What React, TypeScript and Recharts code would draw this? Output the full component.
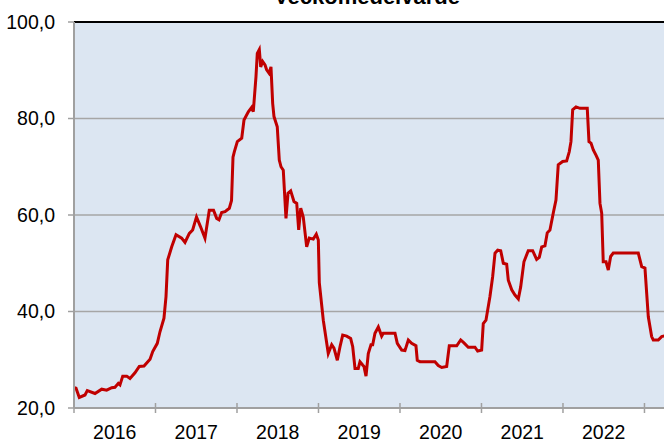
import React from 'react';
import { LineChart, Line, XAxis, YAxis, CartesianGrid, ReferenceLine } from 'recharts';

const weeks: number[] = [
  2016.006, 2016.025, 2016.065, 2016.135, 2016.163, 2016.258, 2016.34, 2016.401, 2016.463, 2016.503,
  2016.544, 2016.564, 2016.598, 2016.647, 2016.687, 2016.748, 2016.801, 2016.859, 2016.933, 2016.966,
  2017.022, 2017.055, 2017.104, 2017.129, 2017.15, 2017.199, 2017.252, 2017.321, 2017.362, 2017.415,
  2017.456, 2017.503, 2017.552, 2017.607, 2017.66, 2017.712, 2017.751, 2017.779, 2017.812, 2017.853,
  2017.906, 2017.933, 2017.951, 2017.967, 2018.004, 2018.058, 2018.086, 2018.139, 2018.18, 2018.2,
  2018.233, 2018.249, 2018.274, 2018.291, 2018.315, 2018.344, 2018.364, 2018.393, 2018.417, 2018.438,
  2018.454, 2018.494, 2018.519, 2018.54, 2018.568, 2018.601, 2018.626, 2018.659, 2018.699, 2018.733,
  2018.757, 2018.782, 2018.813, 2018.855, 2018.887, 2018.936, 2018.973, 2018.998, 2019.01, 2019.059,
  2019.12, 2019.162, 2019.19, 2019.231, 2019.264, 2019.297, 2019.346, 2019.395, 2019.42, 2019.448,
  2019.488, 2019.509, 2019.542, 2019.558, 2019.583, 2019.611, 2019.644, 2019.665, 2019.693, 2019.734,
  2019.775, 2019.795, 2019.939, 2019.967, 2020.021, 2020.061, 2020.102, 2020.143, 2020.196, 2020.212,
  2020.245, 2020.429, 2020.47, 2020.512, 2020.573, 2020.605, 2020.696, 2020.745, 2020.785, 2020.838,
  2020.92, 2020.953, 2021.002, 2021.022, 2021.055, 2021.104, 2021.137, 2021.166, 2021.199, 2021.236,
  2021.268, 2021.309, 2021.329, 2021.371, 2021.411, 2021.452, 2021.481, 2021.521, 2021.574, 2021.628,
  2021.677, 2021.709, 2021.739, 2021.779, 2021.807, 2021.84, 2021.881, 2021.914, 2021.942, 2021.996,
  2022.045, 2022.077, 2022.098, 2022.119, 2022.16, 2022.209, 2022.298, 2022.319, 2022.344, 2022.372,
  2022.405, 2022.433, 2022.454, 2022.475, 2022.494, 2022.528, 2022.556, 2022.585, 2022.617, 2022.924,
  2022.966, 2023.006, 2023.027, 2023.047, 2023.088, 2023.108, 2023.169, 2023.211, 2023.264,
];

const values: number[] = [
  24.2, 24.1, 22.2, 22.7, 23.6, 23.0, 23.9, 23.7, 24.2, 24.3,
  25.1, 24.8, 26.6, 26.6, 26.1, 27.3, 28.6, 28.7, 30.1, 31.7,
  33.4, 35.8, 38.6, 43.1, 50.7, 53.4, 55.9, 55.2, 54.3, 56.2,
  56.9, 59.6, 57.6, 55.2, 61.0, 61.0, 59.3, 59.0, 60.5, 60.7,
  61.4, 63.0, 72.0, 73.1, 75.2, 75.9, 79.7, 81.4, 82.3, 81.4,
  88.7, 93.5, 94.3, 90.7, 91.8, 91.1, 90.1, 89.4, 90.7, 83.1,
  80.4, 78.3, 71.4, 70.0, 69.3, 59.3, 64.5, 65.0, 62.8, 62.4,
  56.9, 61.4, 59.6, 53.4, 55.2, 55.0, 56.0, 54.8, 46.0, 38.2,
  31.3, 33.1, 32.4, 29.9, 32.7, 35.1, 34.9, 34.4, 32.7, 28.2,
  28.2, 29.6, 28.9, 28.6, 26.6, 31.3, 33.1, 33.1, 35.5, 36.8,
  34.9, 35.5, 35.5, 33.4, 32.0, 31.9, 34.1, 33.4, 32.9, 29.9,
  29.6, 29.6, 28.8, 28.4, 28.6, 32.9, 32.9, 34.1, 33.5, 32.6,
  32.6, 31.8, 32.0, 37.5, 38.2, 43.1, 47.2, 52.1, 52.7, 52.6,
  50.0, 49.8, 46.5, 44.5, 43.4, 42.6, 45.1, 50.3, 52.6, 52.6,
  50.8, 51.2, 53.4, 53.6, 56.3, 56.9, 60.4, 63.1, 70.4, 71.1,
  71.2, 73.1, 75.2, 81.8, 82.4, 82.1, 82.1, 75.2, 74.9, 73.5,
  72.4, 71.4, 62.4, 60.4, 50.3, 50.3, 48.6, 51.4, 52.1, 52.1,
  49.3, 49.0, 43.8, 38.9, 34.8, 34.1, 34.1, 34.8, 35.0,
];

const yearTicks: number[] = [2016, 2017, 2018, 2019, 2020, 2021, 2022, 2023];
const yearLabelTicks: number[] = [2016.5, 2017.5, 2018.5, 2019.5, 2020.5, 2021.5, 2022.5];
const yTicks: number[] = [20, 40, 60, 80, 100];
const X_MIN = 2016;
const X_MAX = 2023.485;
const title = 'Veckomedelvärde';

const data = weeks.map((w, i) => ({ week: w, value: values[i] }));

const FONT = '"Liberation Sans", Arial, sans-serif';
const AXIS_GRAY = '#a0a0a0';

const XTick = (props: any) => {
  const { x, y, payload } = props;
  const v = payload.value as number;
  if (Number.isInteger(v)) {
    return <line x1={x} x2={x} y1={y - 5} y2={y + 5} stroke={AXIS_GRAY} strokeWidth={1.5} />;
  }
  return (
    <text x={x} y={y + 31} textAnchor="middle" fontSize={19.5} fontFamily={FONT} fill="#000">
      {Math.floor(v)}
    </text>
  );
};

export default function App() {
  return (
    <div
      style={{
        position: 'absolute',
        left: 0,
        top: 0,
        width: 664,
        height: 441,
        overflow: 'hidden',
        background: '#fff',
      }}
    >
      <LineChart width={700} height={441} data={data} margin={{ top: 22, right: 16, bottom: 0, left: 0 }}>
        <CartesianGrid
          horizontal
          vertical={false}
          fill="#dce6f2"
          fillOpacity={1}
          stroke="#a6a6a6"
          strokeWidth={1.5}
        />
        <XAxis
          dataKey="week"
          type="number"
          domain={[X_MIN, X_MAX]}
          ticks={[...yearTicks, ...yearLabelTicks].sort((a, b) => a - b)}
          allowDataOverflow
          interval={0}
          height={33}
          tickSize={0}
          tickMargin={0}
          tickLine={false}
          axisLine={{ stroke: AXIS_GRAY, strokeWidth: 2 }}
          tick={<XTick />}
        />
        <YAxis
          type="number"
          domain={[20, 100]}
          ticks={yTicks}
          interval={0}
          width={74}
          tickSize={6}
          tickMargin={13}
          axisLine={{ stroke: AXIS_GRAY, strokeWidth: 2 }}
          tickLine={{ stroke: AXIS_GRAY, strokeWidth: 1.5 }}
          tick={{ fontSize: 19.5, fontFamily: FONT, fill: '#000' }}
          tickFormatter={(v: number) => v.toFixed(1).replace('.', ',')}
        />
        <ReferenceLine y={100} stroke="#000" strokeWidth={2} />
        <Line
          type="linear"
          dataKey="value"
          stroke="#c00000"
          strokeWidth={3}
          dot={false}
          isAnimationActive={false}
        />
      </LineChart>
      <svg
        width={664}
        height={30}
        style={{ position: 'absolute', left: 0, top: 0, overflow: 'visible' }}
      >
        <text x={367} y={4} textAnchor="middle" fontSize={22} fontWeight="bold" fontFamily={FONT} fill="#000">
          {title}
        </text>
      </svg>
    </div>
  );
}
